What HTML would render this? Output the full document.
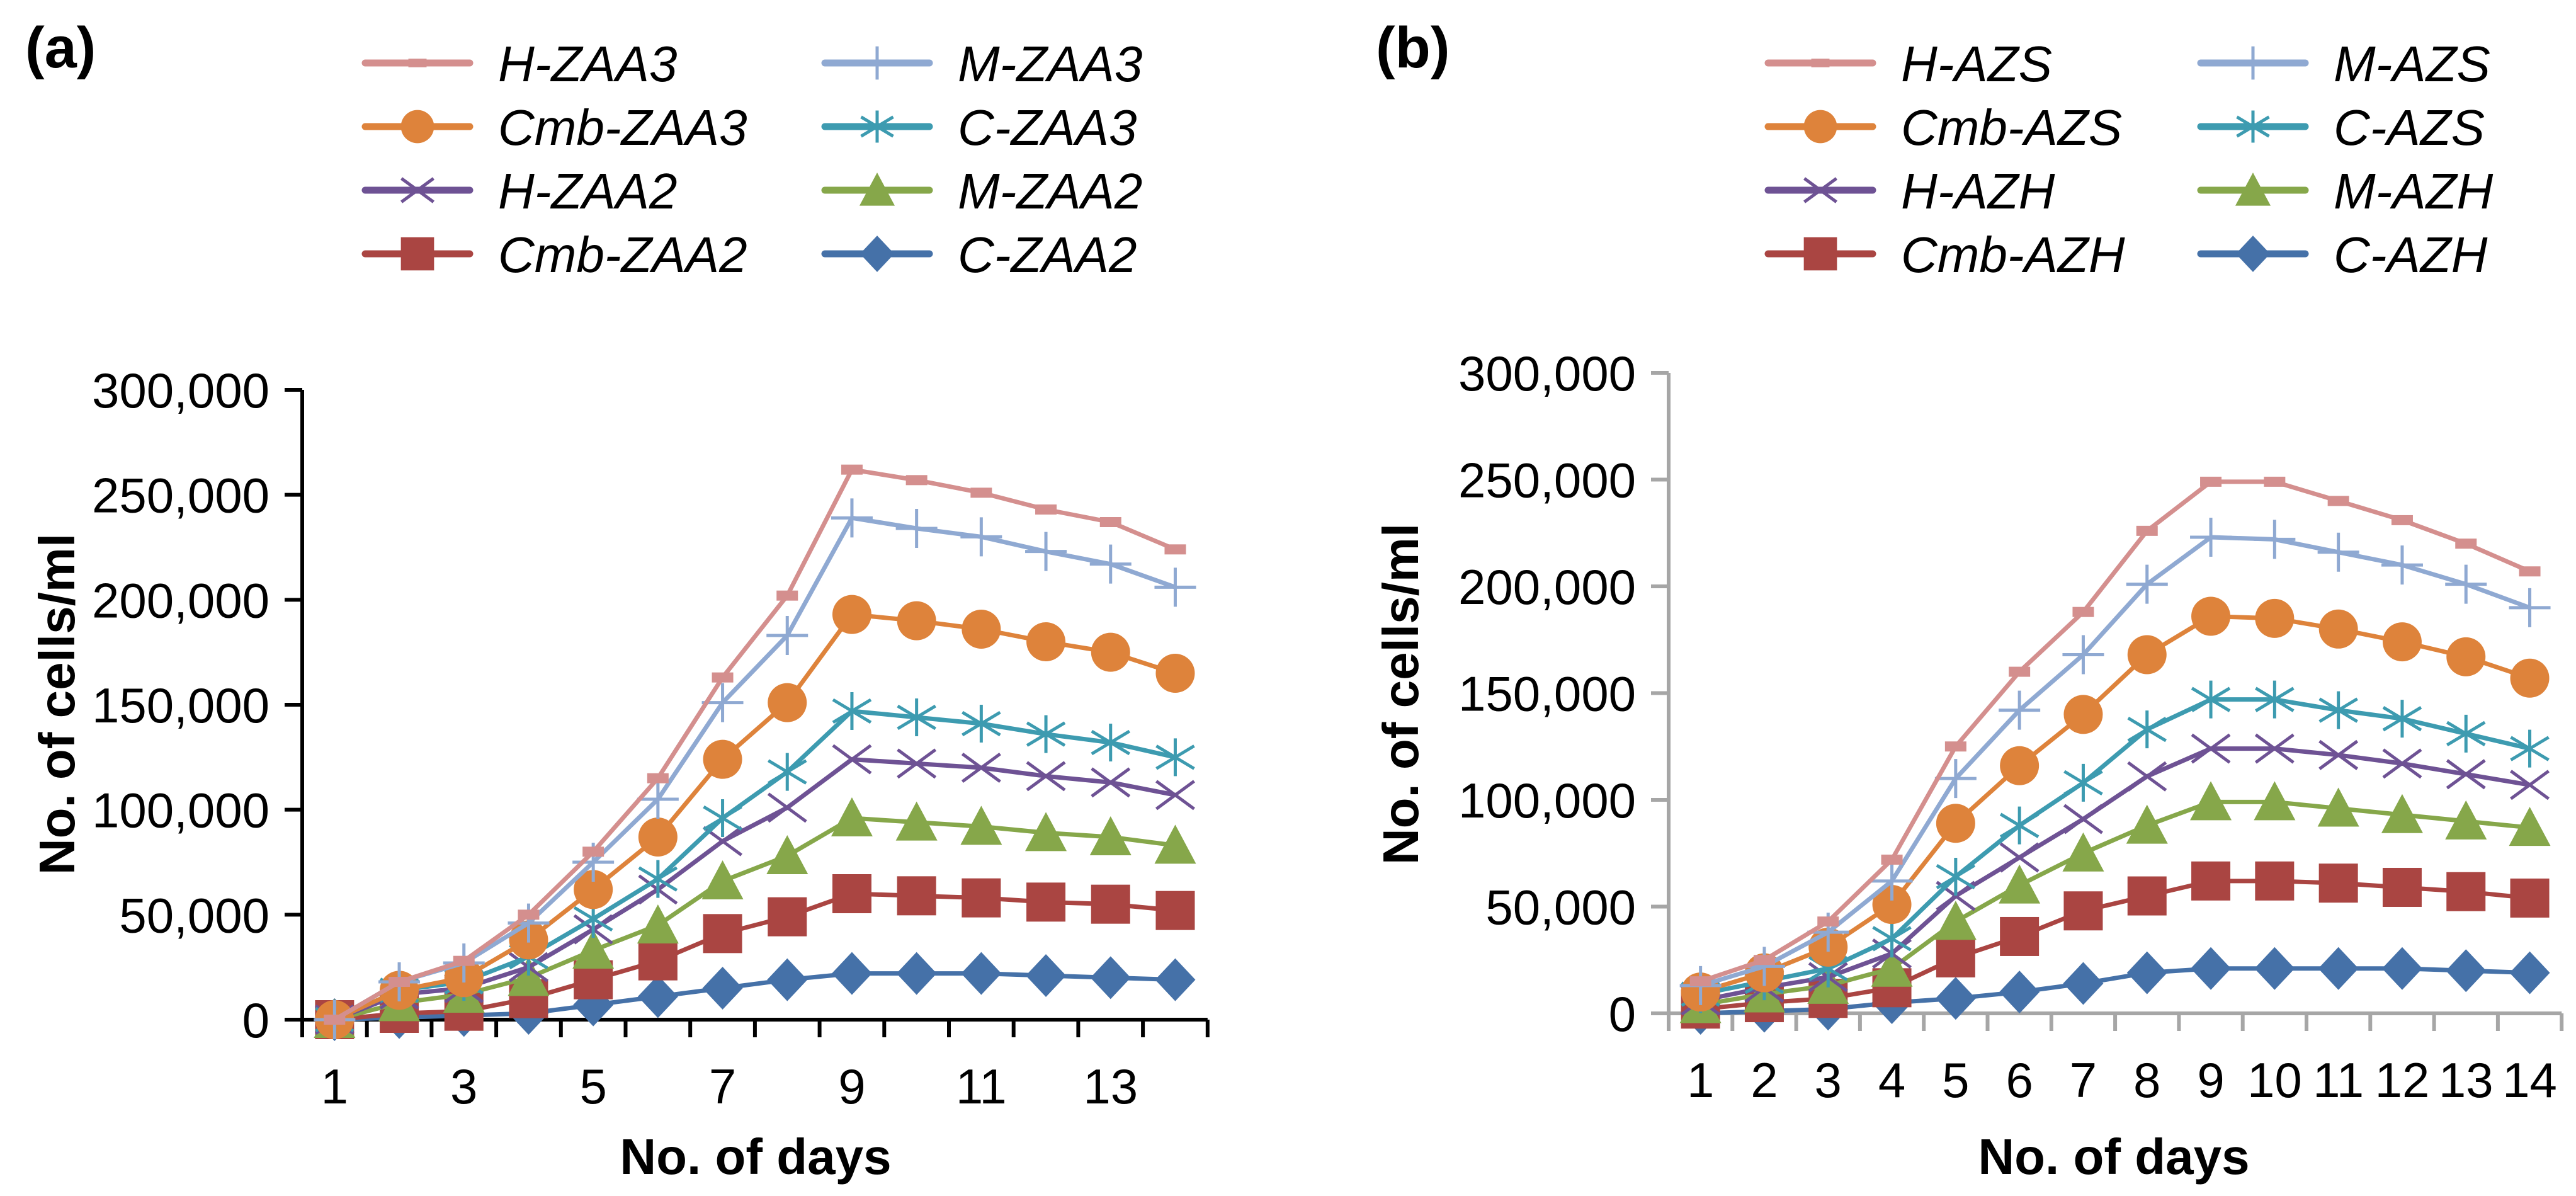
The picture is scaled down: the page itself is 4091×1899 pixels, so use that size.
<!DOCTYPE html>
<html><head><meta charset="utf-8"><style>
html,body{margin:0;padding:0;background:#fff;}
svg{display:block;font-family:"Liberation Sans",Arial,sans-serif;}
</style></head><body>
<svg id="fig" width="4091" height="1899" viewBox="0 0 4091 1899" xmlns="http://www.w3.org/2000/svg"></svg>
<script>
const days = [1,2,3,4,5,6,7,8,9,10,11,12,13,14];
const yTicks = [0,50000,100000,150000,200000,250000,300000];
const yTickLabels = ["0","50,000","100,000","150,000","200,000","250,000","300,000"];
const xLabelsA = ["1","","3","","5","","7","","9","","11","","13",""];
const xLabelsB = ["1","2","3","4","5","6","7","8","9","10","11","12","13","14"];

const namesA = ["H-ZAA3","M-ZAA3","Cmb-ZAA3","C-ZAA3","H-ZAA2","M-ZAA2","Cmb-ZAA2","C-ZAA2"];
const namesB = ["H-AZS","M-AZS","Cmb-AZS","C-AZS","H-AZH","M-AZH","Cmb-AZH","C-AZH"];

const hZAA3 = [0,18000,28000,50000,80000,115000,163000,202000,262000,257000,251000,243000,237000,224000];
const mZAA3 = [0,18000,27000,46000,75000,105000,151000,183000,239000,234000,230000,223000,217000,206000];
const cmbZAA3 = [0,14000,20000,38000,62000,87000,124000,151000,193000,190000,186000,180000,175000,165000];
const cZAA3 = [0,14000,18000,30000,48000,67000,96000,118000,147000,144000,141000,136000,132000,125000];
const hZAA2 = [0,12000,15000,25000,43000,62000,85000,101000,124000,122000,120000,116000,113000,107000];
const mZAA2 = [0,8000,12000,20000,33000,45000,66000,78000,96000,94000,92000,89000,87000,83000];
const cmbZAA2 = [0,3000,4000,10000,19000,28000,41000,49000,60000,59000,58000,56000,55000,52000];
const cZAA2 = [0,1000,2000,3000,7000,11000,15000,19000,22000,22000,22000,21000,20000,19000];

const hAZS = [15000,25000,43000,72000,125000,160000,188000,226000,249000,249000,240000,231000,220000,207000];
const mAZS = [13000,22000,38000,62000,110000,142000,168000,201000,223000,222000,216000,210000,201000,190000];
const cmbAZS = [10000,19000,31000,51000,89000,116000,140000,168000,186000,185000,180000,174000,167000,157000];
const cAZS = [9000,15000,21000,35000,64000,88000,108000,133000,147000,147000,142000,138000,131000,124000];
const hAZH = [6000,12000,17000,28000,55000,73000,91000,111000,124000,124000,121000,117000,112000,107000];
const mAZH = [4000,9000,13000,21000,43000,60000,75000,88000,99000,99000,96000,93000,90000,87000];
const cmbAZH = [2000,5000,7000,12000,26000,36000,48000,55000,62000,62000,61000,59000,57000,54000];
const cAZH = [0,1000,2000,5000,7000,10000,14000,19000,21000,21000,21000,21000,20000,19000];

const seriesA = [hZAA3,mZAA3,cmbZAA3,cZAA3,hZAA2,mZAA2,cmbZAA2,cZAA2];
const seriesB = [hAZS,mAZS,cmbAZS,cAZS,hAZH,mAZH,cmbAZH,cAZH];

const colors = ["#d48f8e","#8fa9d2","#de833b","#3d9bb0","#6e5294","#86a74a","#aa4542","#4571a8"];
const markers = ["dash","plus","circle","star","x","tri","square","diamond"];
const drawOrder = [7,6,5,4,3,2,1,0];

const NS = "http://www.w3.org/2000/svg";
const svg = document.getElementById("fig");
function mk(tag, attrs, parent){
  const e = document.createElementNS(NS, tag);
  for (const k in attrs) e.setAttribute(k, attrs[k]);
  (parent||svg).appendChild(e);
  return e;
}

function marker(g, type, x, y, c, s){
  s = s || 1;
  let e;
  if (type==="dash"){ e = mk("rect",{x:x-17*s,y:y-8*s,width:34*s,height:16*s,fill:c},g); }
  else if (type==="plus"){ e = mk("path",{d:`M${x-33*s},${y}H${x+33*s}M${x},${y-31*s}V${y+31*s}`,stroke:c,"stroke-width":5,fill:"none"},g); }
  else if (type==="circle"){ e = mk("circle",{cx:x,cy:y,r:31*s,fill:c},g); }
  else if (type==="star"){ e = mk("path",{d:`M${x-30*s},${y-18*s}L${x+30*s},${y+18*s}M${x-30*s},${y+18*s}L${x+30*s},${y-18*s}M${x},${y-30*s}V${y+30*s}`,stroke:c,"stroke-width":5,fill:"none"},g); }
  else if (type==="x"){ e = mk("path",{d:`M${x-30*s},${y-22*s}L${x+30*s},${y+22*s}M${x-30*s},${y+22*s}L${x+30*s},${y-22*s}`,stroke:c,"stroke-width":5,fill:"none"},g); }
  else if (type==="tri"){ e = mk("path",{d:`M${x},${y-33*s}L${x+33*s},${y+29*s}L${x-33*s},${y+29*s}Z`,fill:c},g); }
  else if (type==="square"){ e = mk("rect",{x:x-31*s,y:y-31*s,width:62*s,height:62*s,fill:c},g); }
  else { e = mk("path",{d:`M${x},${y-34*s}L${x+32*s},${y}L${x},${y+34*s}L${x-32*s},${y}Z`,fill:c},g); }
  
  
  return e;
}

function panel(cfg){
  const g = mk("g",{});
  
  
  const x0 = cfg.x0, step = cfg.step, y0 = cfg.y0, pxPer = cfg.pxPer;
  const X = i => x0 + (i + 0.5) * step;
  const Y = v => y0 - v * pxPer;
  const xEnd = x0 + days.length * step;

  const lab = mk("text",{x:cfg.labX,y:107,"font-size":92,"font-weight":"bold",fill:"#000"},g);
  lab.textContent = cfg.label;
  
  

  const ax = mk("g",{stroke:cfg.axisColor,"stroke-width":6,fill:"none"},g);
  
  
  mk("line",{x1:x0,y1:Y(300000),x2:x0,y2:y0+28},ax);
  mk("line",{x1:x0,y1:y0,x2:xEnd,y2:y0},ax);
  yTicks.forEach(v => mk("line",{x1:x0-28,y1:Y(v),x2:x0,y2:Y(v)},ax));
  for (let i=1;i<=days.length;i++) mk("line",{x1:x0+i*step,y1:y0,x2:x0+i*step,y2:y0+28},ax);

  yTicks.forEach((v,i) => {
    const t = mk("text",{x:x0-52,y:Y(v)+28,"font-size":78,"text-anchor":"end",fill:"#000"},g);
    t.textContent = yTickLabels[i];
    
    
  });
  cfg.xLabels.forEach((s,i) => {
    if (!s) return;
    const t = mk("text",{x:X(i),y:cfg.xLabY,"font-size":78,"text-anchor":"middle",fill:"#000"},g);
    t.textContent = s;
    
    
  });
  const xt = mk("text",{x:cfg.xTitleX,y:1864,"font-size":80,"font-weight":"bold","text-anchor":"middle",fill:"#000"},g);
  xt.textContent = "No. of days";
  
  
  const yt = mk("text",{x:0,y:0,"font-size":80,"font-weight":"bold","text-anchor":"middle",fill:"#000",transform:`translate(${cfg.yTitleX},${cfg.yTitleY}) rotate(-90)`},g);
  yt.textContent = "No. of cells/ml";
  
  

  drawOrder.forEach(si => {
    const vals = cfg.series[si];
    const sg = mk("g",{},g);
    
    
    const pts = vals.map((v,i) => X(i)+","+Y(v)).join(" ");
    const pl = mk("polyline",{points:pts,fill:"none",stroke:colors[si],"stroke-width":7,"stroke-linejoin":"round"},sg);
    
    
    vals.forEach((v,i) => marker(sg, markers[si], X(i), Y(v), colors[si], 1));
  });

  const rows = [100,201,302,403];
  const lg = mk("g",{},g);
  
  
  for (let si=0; si<8; si++){
    const col = si % 2, row = Math.floor(si/2);
    const lx = cfg.legX[col], y = rows[row];
    const eg = mk("g",{},lg);
    
    
    mk("line",{x1:lx,y1:y,x2:lx+166,y2:y,stroke:colors[si],"stroke-width":11,"stroke-linecap":"round"},eg);
    marker(eg, markers[si], lx+83, y, colors[si], 0.85);
    const t = mk("text",{x:lx+211,y:y+29,"font-size":80,"font-style":"italic",fill:"#000"},eg);
    t.textContent = cfg.names[si];
  }
}

panel({id:"panel-a",label:"(a)",labX:40,x0:480,step:102.7,y0:1619,pxPer:(1619-619)/300000,
  axisColor:"#000",xLabels:xLabelsA,xLabY:1752,xTitleX:1200,yTitleX:118,yTitleY:1118,
  series:seriesA,names:namesA,legX:[580,1310]});
panel({id:"panel-b",label:"(b)",labX:2185,x0:2650,step:101.3,y0:1609,pxPer:(1609-592)/300000,
  axisColor:"#a6a6a6",xLabels:xLabelsB,xLabY:1742,xTitleX:3357,yTitleX:2252,yTitleY:1102,
  series:seriesB,names:namesB,legX:[2808,3495]});
</script>
</body></html>
